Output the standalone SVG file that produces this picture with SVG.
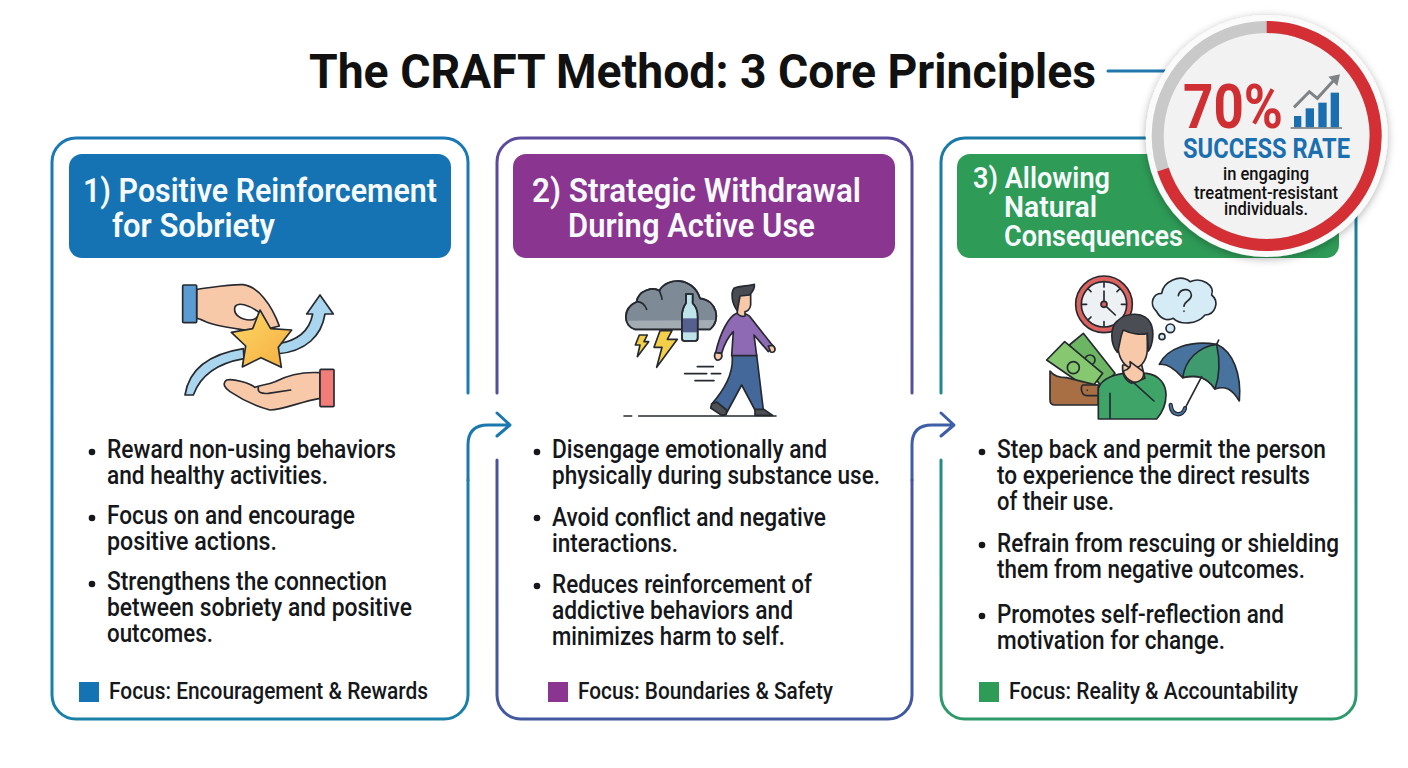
<svg xmlns="http://www.w3.org/2000/svg" width="1408" height="768" viewBox="0 0 1408 768">
<style>
text{font-family:Roboto,"Liberation Sans",sans-serif}
.title{font-size:48px;font-weight:700;fill:#111}
.hd{font-size:34px;font-weight:600;fill:#f6fafc}
.hs{font-size:30px;font-weight:600;fill:#f6fafc}
.bl{font-size:26px;font-weight:500;fill:#15171a}
.fc{font-size:23px;font-weight:500;fill:#15171a}
.dot{fill:#15171a}
.card{fill:none;stroke-width:3;stroke-linecap:round}
.conn{fill:none;stroke-width:3;stroke-linecap:round;stroke-linejoin:round}
.ic{stroke:#262a30;stroke-width:5;stroke-linejoin:round;stroke-linecap:round}
.ln{fill:none;stroke:#262a30;stroke-width:5;stroke-linejoin:round;stroke-linecap:round}
.sm{font-size:19px;font-weight:500;fill:#111}
</style>
<defs>
<linearGradient id="g1" gradientUnits="userSpaceOnUse" x1="0" y1="138" x2="0" y2="720"><stop offset="0" stop-color="#1a78b4"/><stop offset="1" stop-color="#1a80a8"/></linearGradient>
<linearGradient id="g2" gradientUnits="userSpaceOnUse" x1="0" y1="138" x2="0" y2="720"><stop offset="0" stop-color="#5c4a9c"/><stop offset="1" stop-color="#41589f"/></linearGradient>
<linearGradient id="g3" gradientUnits="userSpaceOnUse" x1="0" y1="138" x2="0" y2="720"><stop offset="0" stop-color="#1a7aa6"/><stop offset="1" stop-color="#2e9a6a"/></linearGradient>
<linearGradient id="star" x1="0" y1="0" x2="1" y2="1"><stop offset="0" stop-color="#ffd966"/><stop offset="1" stop-color="#f3ad40"/></linearGradient>
<filter id="sh" x="-20%" y="-20%" width="140%" height="140%"><feDropShadow dx="0" dy="2" stdDeviation="4" flood-color="#000" flood-opacity=".3"/></filter>
</defs>
<rect width="1408" height="768" fill="#fff"/>
<g id="title"><text class="title" x="309" y="88" textLength="787" lengthAdjust="spacingAndGlyphs">The CRAFT Method: 3 Core Principles</text></g>

<g id="connectors">
<path class="conn" stroke="#1f77ae" d="M1108,71H1170"/>
<path class="conn" stroke="#1b78ae" d="M468,480V445Q468,425 488,425H509M497,413L510,425L497,436"/>
<path class="conn" stroke="#3f5ea8" d="M912,480V445Q912,425 932,425H953M941,413L954,425L941,436"/>
</g>

<g id="card1">
<path class="card" stroke="url(#g1)" d="M468,393V162A24,24 0 0 0 444,138H76A24,24 0 0 0 52,162V695A24,24 0 0 0 76,719H444A24,24 0 0 0 468,695V480"/>
<rect x="69" y="154" width="382" height="104" rx="13" fill="#1573b4"/>
<text class="hd" x="83" y="202" textLength="354" lengthAdjust="spacingAndGlyphs">1) Positive Reinforcement</text>
<text class="hd" x="112" y="237" textLength="163" lengthAdjust="spacingAndGlyphs">for Sobriety</text>
<g transform="translate(160,270) scale(.33333)">
<path d="M75,375C85,310 130,255 250,236L252,266C170,280 120,320 100,375Z" fill="#a9d6ee" class="ic"/>
<path d="M350,222C420,212 450,175 458,132H440L480,75L520,132H495C485,195 440,245 350,252Z" fill="#a9d6ee" class="ic"/>
<path d="M110,58C160,52 210,42 250,44C295,50 335,105 358,168L290,185C250,180 180,170 150,160C135,155 120,145 110,145Z" fill="#f8c9a8" class="ic"/>
<rect x="68" y="45" width="42" height="113" rx="3" fill="#5b9bd3" class="ic"/>
<path d="M225,110C235,95 265,105 295,125C300,140 285,150 270,150C245,150 218,135 225,110Z" fill="#fff" class="ic"/>
<path d="M300,120L332,176L395,180L355,232L364,292L303,263L247,291L257,228L214,187L278,176Z" fill="url(#star)" class="ic"/>
<path d="M480,308C430,305 390,312 345,335C320,345 300,345 285,352C270,340 220,325 200,330C185,340 195,355 210,365C240,385 290,410 330,420C370,420 420,395 480,385Z" fill="#f8c9a8" class="ic"/>
<path class="ln" d="M295,352C292,368 305,372 325,370L392,360"/>
<rect x="480" y="298" width="42" height="112" rx="3" fill="#f27c78" class="ic"/>
</g>
<circle class="dot" cx="92" cy="452" r="3.3"/><circle class="dot" cx="92" cy="518" r="3.3"/><circle class="dot" cx="92" cy="584" r="3.3"/>
<text class="bl" x="107" y="458" textLength="289" lengthAdjust="spacingAndGlyphs">Reward non-using behaviors</text>
<text class="bl" x="107" y="484" textLength="221" lengthAdjust="spacingAndGlyphs">and healthy activities.</text>
<text class="bl" x="107" y="524" textLength="248" lengthAdjust="spacingAndGlyphs">Focus on and encourage</text>
<text class="bl" x="107" y="550" textLength="170" lengthAdjust="spacingAndGlyphs">positive actions.</text>
<text class="bl" x="107" y="590" textLength="280" lengthAdjust="spacingAndGlyphs">Strengthens the connection</text>
<text class="bl" x="107" y="616" textLength="305" lengthAdjust="spacingAndGlyphs">between sobriety and positive</text>
<text class="bl" x="107" y="642" textLength="106" lengthAdjust="spacingAndGlyphs">outcomes.</text>
<rect x="79" y="682" width="20" height="20" fill="#1573b4"/>
<text class="fc" x="109" y="699" textLength="319" lengthAdjust="spacingAndGlyphs">Focus: Encouragement &amp; Rewards</text>
</g>

<g id="card2">
<path class="card" stroke="url(#g2)" d="M497,393V162A24,24 0 0 1 521,138H888A24,24 0 0 1 912,162V393M912,480V695A24,24 0 0 1 888,719H521A24,24 0 0 1 497,695V460"/>
<rect x="513" y="154" width="382" height="104" rx="13" fill="#8a3590"/>
<text class="hd" x="532" y="202" textLength="329" lengthAdjust="spacingAndGlyphs">2) Strategic Withdrawal</text>
<text class="hd" x="568" y="237" textLength="247" lengthAdjust="spacingAndGlyphs">During Active Use</text>
<g transform="translate(600,270) scale(.33333)">
<path d="M105,178C70,170 65,115 110,95C115,60 160,50 178,62C200,20 280,20 300,85C350,90 365,150 330,178Z" fill="#7e8a96" class="ic"/>
<path d="M82,152C85,165 95,176 105,176H330C338,170 342,160 344,150Z" fill="#a3abb3"/>
<path d="M105,178C70,170 65,115 110,95C115,60 160,50 178,62C200,20 280,20 300,85C350,90 365,150 330,178Z" fill="none" class="ic"/>
<path class="ln" d="M110,95C125,95 135,105 140,118M178,62C182,72 186,80 186,88"/>
<path d="M118,195H142L132,215H146L112,260L120,225H106Z" fill="#f4d04a" class="ic"/>
<path d="M180,182H216L202,208H232L170,292L186,232H162Z" fill="#f4d04a" class="ic"/>
<path d="M258,72H278V100C290,110 293,125 293,140V205C293,210 290,213 285,213H253C248,213 246,210 246,205V140C246,125 250,110 258,100Z" fill="#bfe3ea" class="ic"/>
<rect x="247" y="145" width="46" height="42" fill="#56608f"/>
<path d="M258,72H278V100C290,110 293,125 293,140V205C293,210 290,213 285,213H253C248,213 246,210 246,205V140C246,125 250,110 258,100Z" fill="none" class="ic"/>
<path d="M396,255C402,300 385,345 335,402L378,432L425,345L465,420L490,420L470,255Z" fill="#44689a" class="ic"/>
<path d="M335,402L332,414L365,436L378,434L380,420L350,396Z" fill="#4d5156" class="ic"/>
<path d="M465,418H492L518,436H465Z" fill="#4d5156" class="ic"/>
<path d="M410,130C385,140 360,190 347,248L365,250C372,225 385,200 400,185L395,257H470L462,195L505,245L522,232L450,140C440,130 425,128 410,130Z" fill="#8d6ab3" class="ic"/>
<path d="M346,248L364,250C370,262 360,272 350,270C343,265 343,255 346,248Z" fill="#f8c9a8" class="ic"/>
<path d="M505,228L518,226C530,235 526,250 512,246Z" fill="#f8c9a8" class="ic"/>
<path d="M412,72H452V105C450,120 440,125 435,125V138C425,142 415,135 412,130Z" fill="#f8c9a8" class="ic"/>
<path d="M412,122C395,100 392,70 402,55C420,45 445,50 463,43C465,55 455,68 448,75L420,78L416,100Z" fill="#484c52" class="ic"/>
<path class="ln" d="M292,290H340M254,311H320M334,311H362M285,332H342M72,438H95M116,438H528"/>
</g>
<circle class="dot" cx="537" cy="452" r="3.3"/><circle class="dot" cx="537" cy="518" r="3.3"/><circle class="dot" cx="537" cy="586" r="3.3"/>
<text class="bl" x="552" y="458" textLength="275" lengthAdjust="spacingAndGlyphs">Disengage emotionally and</text>
<text class="bl" x="552" y="484" textLength="328" lengthAdjust="spacingAndGlyphs">physically during substance use.</text>
<text class="bl" x="552" y="526" textLength="274" lengthAdjust="spacingAndGlyphs">Avoid conflict and negative</text>
<text class="bl" x="552" y="552" textLength="126" lengthAdjust="spacingAndGlyphs">interactions.</text>
<text class="bl" x="552" y="593" textLength="260" lengthAdjust="spacingAndGlyphs">Reduces reinforcement of</text>
<text class="bl" x="552" y="619" textLength="241" lengthAdjust="spacingAndGlyphs">addictive behaviors and</text>
<text class="bl" x="552" y="645" textLength="233" lengthAdjust="spacingAndGlyphs">minimizes harm to self.</text>
<rect x="548" y="682" width="20" height="20" fill="#8a3590"/>
<text class="fc" x="578" y="699" textLength="255" lengthAdjust="spacingAndGlyphs">Focus: Boundaries &amp; Safety</text>
</g>

<g id="card3">
<path class="card" stroke="url(#g3)" d="M941,393V162A24,24 0 0 1 965,138H1332A24,24 0 0 1 1356,162V695A24,24 0 0 1 1332,719H965A24,24 0 0 1 941,695V460"/>
<rect x="957" y="154" width="382" height="104" rx="13" fill="#2e9b57"/>
<text class="hs" x="973" y="188" textLength="137" lengthAdjust="spacingAndGlyphs">3) Allowing</text>
<text class="hs" x="1004" y="217" textLength="93" lengthAdjust="spacingAndGlyphs">Natural</text>
<text class="hs" x="1004" y="246" textLength="179" lengthAdjust="spacingAndGlyphs">Consequences</text>
<g transform="translate(1030,265) scale(.33333)">
<circle cx="222" cy="118" r="85" fill="#dc625f" class="ic"/>
<circle cx="222" cy="118" r="68" fill="#eef1f4" class="ic"/>
<path class="ln" d="M222,52V66M222,170V184M156,118H170M274,118H288M222,118V78M222,118L256,150M175,72L183,80M269,72L261,80M175,164L183,156"/>
<circle cx="222" cy="118" r="9" fill="#dc625f" class="ic"/>
<path d="M380,140C355,115 370,85 395,85C400,50 450,25 480,50C515,35 555,60 545,90C570,110 555,150 525,150C500,180 450,180 430,160C410,170 390,160 380,140Z" fill="#d5ebf5" class="ic"/>
<path class="ln" d="M445,92C450,68 483,68 484,90C485,107 462,108 462,124M462,138V139"/>
<circle cx="421" cy="190" r="13" fill="#d5ebf5" class="ic"/><circle cx="396" cy="215" r="9" fill="#d5ebf5" class="ic"/>
<path d="M118,240L160,205L255,325L215,365Z" fill="#6cb562" class="ic"/>
<circle cx="180" cy="285" r="15" fill="#6cb562" class="ic"/>
<path d="M50,285L104,230L218,325L180,375Z" fill="#85c86f" class="ic"/>
<circle cx="130" cy="308" r="18" fill="#85c86f" class="ic"/>
<path d="M60,318C70,332 90,338 110,338L205,362V420H75C65,420 60,415 60,405Z" fill="#a86f45" class="ic"/>
<path d="M158,360H205V392H170C155,392 150,368 158,360Z" fill="#a86f45" class="ic"/>
<circle cx="172" cy="376" r="2.5" fill="#262a30"/>
<path d="M205,462V370C215,340 260,325 290,325L350,325C390,330 408,360 408,390C408,420 395,445 380,462Z" fill="#3fa468" class="ic"/>
<path d="M278,300C275,330 285,345 305,355L345,340L335,300Z" fill="#f8c9a8" class="ic"/>
<path d="M265,195H352V255C350,290 330,310 310,310C285,310 268,280 265,255Z" fill="#f8c9a8" class="ic"/>
<path d="M262,262C240,235 240,185 262,168C290,140 345,140 362,175C374,200 368,240 355,258L352,205C330,212 300,205 280,195C270,215 270,240 262,262Z" fill="#4a4e54" class="ic"/>
<path d="M280,318C295,315 305,305 300,290L340,320C345,340 330,352 310,352C295,345 282,335 280,318Z" fill="#f8c9a8" class="ic"/>
<path class="ln" d="M240,385V460M310,352L372,408"/>
<path d="M388,298C410,250 480,225 560,238C610,260 635,330 628,408C605,370 585,362 555,372C530,335 500,328 458,338C435,312 410,295 388,298Z" fill="#49739f" class="ic"/>
<path d="M458,338C465,285 505,245 560,238C570,285 570,330 555,372C530,335 500,328 458,338Z" fill="#3f9a70" class="ic"/>
<path class="ln" d="M560,238L566,225M515,335L465,430"/>
<path d="M465,430C458,455 425,455 422,420" fill="none" stroke="#262a30" stroke-width="13" stroke-linecap="round"/>
<path d="M465,430C458,455 425,455 422,420" fill="none" stroke="#49739f" stroke-width="6" stroke-linecap="round"/>
</g>
<circle class="dot" cx="982" cy="452" r="3.3"/><circle class="dot" cx="982" cy="545" r="3.3"/><circle class="dot" cx="982" cy="616" r="3.3"/>
<text class="bl" x="997" y="458" textLength="329" lengthAdjust="spacingAndGlyphs">Step back and permit the person</text>
<text class="bl" x="997" y="484" textLength="313" lengthAdjust="spacingAndGlyphs">to experience the direct results</text>
<text class="bl" x="997" y="510" textLength="117" lengthAdjust="spacingAndGlyphs">of their use.</text>
<text class="bl" x="997" y="552" textLength="342" lengthAdjust="spacingAndGlyphs">Refrain from rescuing or shielding</text>
<text class="bl" x="997" y="578" textLength="308" lengthAdjust="spacingAndGlyphs">them from negative outcomes.</text>
<text class="bl" x="997" y="623" textLength="287" lengthAdjust="spacingAndGlyphs">Promotes self-reflection and</text>
<text class="bl" x="997" y="649" textLength="228" lengthAdjust="spacingAndGlyphs">motivation for change.</text>
<rect x="979" y="682" width="20" height="20" fill="#2e9b57"/>
<text class="fc" x="1009" y="699" textLength="289" lengthAdjust="spacingAndGlyphs">Focus: Reality &amp; Accountability</text>
</g>

<g id="badge">
<circle cx="1266.7" cy="136" r="121" fill="#fafafa" filter="url(#sh)"/>
<circle cx="1266.7" cy="136" r="109" fill="#f2f2f2" stroke="#c9c9c9" stroke-width="12"/>
<path d="M1266.7,27A109,109 0 1 1 1163,169.7" fill="none" stroke="#d32f35" stroke-width="12"/>
<text x="1183" y="128" font-size="62" font-weight="700" fill="#cf2e33" textLength="100" lengthAdjust="spacingAndGlyphs">70%</text>
<text x="1183" y="158" font-size="28" font-weight="700" fill="#1a6fb0" textLength="167" lengthAdjust="spacingAndGlyphs">SUCCESS RATE</text>
<text class="sm" x="1223" y="180" textLength="86" lengthAdjust="spacingAndGlyphs">in engaging</text>
<text class="sm" x="1194" y="199" textLength="144" lengthAdjust="spacingAndGlyphs">treatment-resistant</text>
<text class="sm" x="1224" y="215" textLength="84" lengthAdjust="spacingAndGlyphs">individuals.</text>
<g transform="translate(1100,10) scale(.33333)">
<rect x="582" y="318" width="22" height="34" fill="#1a6fb0"/><rect x="617" y="295" width="25" height="57" fill="#1a6fb0"/><rect x="655" y="278" width="25" height="74" fill="#1a6fb0"/><rect x="692" y="248" width="25" height="104" fill="#1a6fb0"/>
<path d="M572,354H726" stroke="#6f7478" stroke-width="5" fill="none"/>
<path d="M582,292L628,245L652,265L700,212" stroke="#7f8386" stroke-width="9" fill="none"/>
<path d="M685,200L720,193L712,228Z" fill="#7f8386"/>
</g>
</g>
</svg>
